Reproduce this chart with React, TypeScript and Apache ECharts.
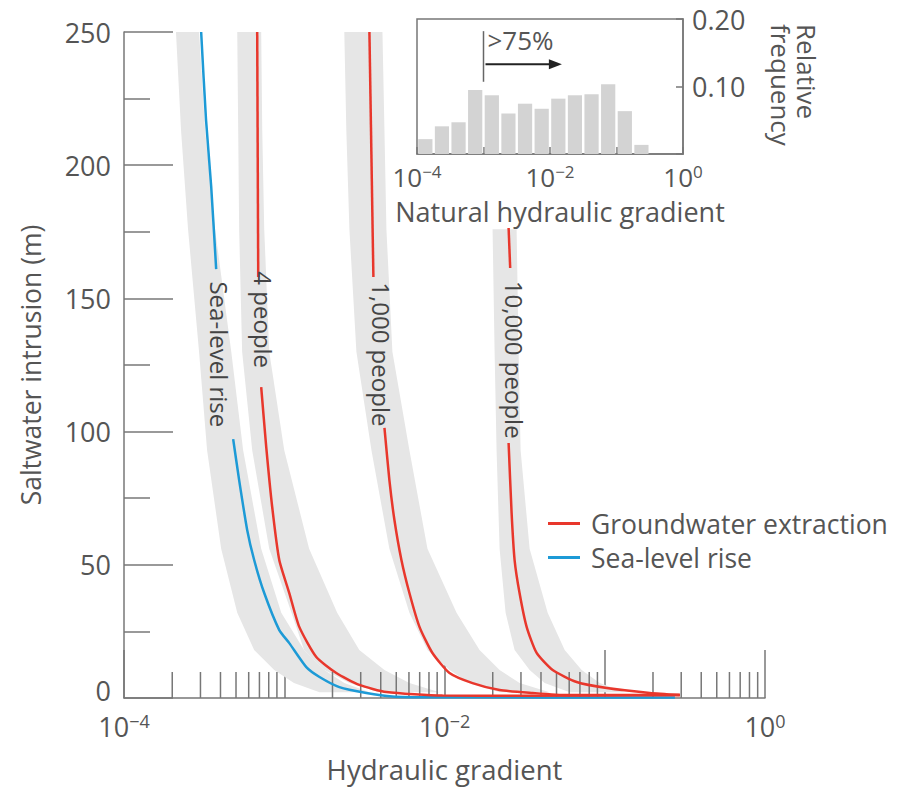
import React, { useEffect, useRef } from "react";
import * as echarts from "echarts";

// ---------- data (gradient, intrusion m) ----------
const seaUpper = [[3.03e-4, 250], [3.25e-4, 217], [3.5e-4, 192], [3.76e-4, 161]];
const seaLower = [[4.8e-4, 97.2], [5.23e-4, 81.8], [5.87e-4, 63.1], [6.49e-4, 51.8], [7.5e-4, 39.4], [9.31e-4, 25.5], [1.075e-3, 20.6], [1.373e-3, 11.6], [1.66e-3, 7.9], [2.207e-3, 4.1], [3.255e-3, 1.9], [4.73e-3, 0.6], [8.06e-3, 0.3], [0.274, 0.2]];
const p4Upper = [[6.78e-4, 250], [6.88e-4, 158]];
const p4Lower = [[7.18e-4, 116.7], [7.72e-4, 94.2], [8.41e-4, 71.7], [9.31e-4, 51.8], [1.075e-3, 39.4], [1.241e-3, 26.7], [1.585e-3, 15.4], [2.113e-3, 9.4], [2.94e-3, 4.9], [4.34e-3, 2.25], [9.72e-3, 0.9], [0.0294, 0.8], [0.294, 1.1]];
const p1000Upper = [[3.4e-3, 250], [3.6e-3, 158]];
const p1000Lower = [[4.22e-3, 101.4], [4.53e-3, 81.8], [4.87e-3, 66.8], [5.385e-3, 51.8], [6.04e-3, 39.4], [6.98e-3, 26.7], [8.41e-3, 16.9], [0.01075, 9.4], [0.01496, 5.6], [0.02207, 3.0], [0.03548, 1.9], [0.05786, 1.1], [0.294, 1.1]];
const p10000Upper = [[0.02512, 176.4], [0.0257, 161.4]];
const p10000Lower = [[0.02512, 95.7], [0.02623, 69.4], [0.02738, 51.8], [0.0294, 39.4], [0.03255, 26.7], [0.03758, 16.9], [0.04732, 10.5], [0.06683, 6.0], [0.1029, 3.75], [0.191, 1.9], [0.294, 1.1]];

// uncertainty bands: left edge (top->bottom) then right edge (bottom->top)
const bandSea = [[2.11e-4, 250], [2.27e-4, 213], [2.51e-4, 176], [2.94e-4, 130], [3.3e-4, 93], [4.04e-4, 56], [5.09e-4, 32], [6.49e-4, 18], [8.66e-4, 10.5], [1.15e-3, 5.6], [1.66e-3, 2.2],
  [3.4e-3, 2.2], [2.37e-3, 5.6], [1.78e-3, 10.5], [1.33e-3, 18], [9.58e-4, 32], [7.18e-4, 56], [5.54e-4, 93], [4.67e-4, 130], [3.7e-4, 176], [3.21e-4, 213], [2.94e-4, 250]];
const band4 = [[5.09e-4, 250], [5.16e-4, 213], [5.23e-4, 176], [5.46e-4, 130], [6.31e-4, 93], [8.06e-4, 56], [1.11e-3, 32], [1.33e-3, 18], [1.78e-3, 10.5], [2.55e-3, 5.6], [3.93e-3, 2.2],
  [9.31e-3, 2.2], [6.04e-3, 5.6], [4.22e-3, 10.5], [2.94e-3, 18], [2.14e-3, 32], [1.43e-3, 56], [1.0e-3, 93], [8.06e-4, 130], [7.5e-4, 176], [7.29e-4, 213], [7.18e-4, 250]];
const band1000 = [[2.37e-3, 250], [2.44e-3, 213], [2.55e-3, 176], [2.82e-3, 130], [3.5e-3, 93], [4.53e-3, 56], [6.04e-3, 32], [7.83e-3, 18], [0.01075, 10.5], [0.01433, 5.6], [0.02207, 2.2],
  [0.04532, 2.2], [0.02943, 5.6], [0.02207, 10.5], [0.01655, 18], [0.01189, 32], [7.83e-3, 56], [6.04e-3, 93], [4.73e-3, 130], [4.34e-3, 176], [4.22e-3, 213], [4.1e-3, 250]];
const band10000 = [[0.01995, 176], [0.02054, 130], [0.02113, 93], [0.02207, 56], [0.02406, 32], [0.02738, 18], [0.03398, 10.5], [0.04217, 5.6], [0.06043, 2.2],
  [0.1334, 2.2], [0.09306, 5.6], [0.0718, 10.5], [0.05623, 18], [0.04403, 32], [0.03398, 56], [0.02985, 93], [0.029, 130], [0.02818, 176]];

const curveLabels = [
  { name: "Sea-level rise", value: [3.92e-4, 129] },
  { name: "4 people", value: [7.4e-4, 142] },
  { name: "1,000 people", value: [4.05e-3, 129] },
  { name: "10,000 people", value: [0.0272, 127] },
];

// main axis minor ticks (mantissas per decade)
const minorMantissas = [2, 3, 4, 5, 6, 7, 8, 9];
const decades = [1e-4, 1e-3, 1e-2, 1e-1];

// inset histogram
const histEdges = [1e-4, 1.78e-4, 3.16e-4, 5.62e-4, 1e-3, 1.78e-3, 3.16e-3, 5.62e-3, 1e-2, 1.78e-2, 3.16e-2, 5.62e-2, 0.1, 0.178, 0.316];
const histFreq = [0.022, 0.041, 0.047, 0.095, 0.087, 0.06, 0.0745, 0.067, 0.082, 0.087, 0.0885, 0.1035, 0.0635, 0.0135];
const annot = { x: 1e-3, yBottom: 0.107, yTop: 0.182, arrowY: 0.133, arrowEnd: 0.0151, text: ">75%" };

const RED = "#e8372c";
const BLUE = "#1d9ad6";
const BAND = "#e6e6e6";
const TXT = "#555";
const AX = "#777";
const FONT = "Open Sans";

const powFmt = (v: number) => {
  const e = Math.round(Math.log10(v));
  if (e % 2 !== 0) return "";
  return `{b|10}{s|${e < 0 ? "\u2212" : ""}${Math.abs(e)}}`;
};
const powRich = (size: number) => ({
  b: { fontSize: size, color: TXT, fontFamily: FONT, lineHeight: size + 2 },
  s: { fontSize: Math.round(size * 0.66), color: TXT, fontFamily: FONT, verticalAlign: "top", lineHeight: Math.round(size * 0.66) },
});

function bandSeries(points: number[][], name: string) {
  return {
    type: "custom",
    name,
    xAxisIndex: 0,
    yAxisIndex: 0,
    z: 1,
    silent: true,
    data: points,
    encode: { x: 0, y: 1 },
    renderItem: (params: any, api: any) => {
      if (params.dataIndex !== 0) return null;
      const pts = points.map((p) => api.coord(p));
      return { type: "polygon", shape: { points: pts }, style: { fill: BAND } };
    },
  };
}

function lineSeries(name: string, data: number[][], color: string) {
  return {
    type: "line",
    name,
    data,
    xAxisIndex: 0,
    yAxisIndex: 0,
    showSymbol: false,
    symbol: "none",
    smooth: 0.2,
    z: 4,
    lineStyle: { color, width: 2.5 },
    itemStyle: { color },
  };
}

export default function App() {
  const ref = useRef<HTMLDivElement>(null);
  useEffect(() => {
    document.body.style.margin = "0";
    const chart = echarts.init(ref.current!, null, { renderer: "svg" });
    const minorTicks: number[][] = [];
    decades.forEach((d) => minorMantissas.forEach((m) => minorTicks.push([d * m, 0])));
    const histData = histFreq.map((f, i) => [histEdges[i], histEdges[i + 1], f]);

    const option: any = {
      animation: false,
      textStyle: { fontFamily: FONT },
      legend: {
        left: 543,
        top: 505,
        orient: "vertical",
        itemWidth: 32,
        itemHeight: 3,
        itemGap: 7,
        data: [
          { name: "Groundwater extraction", icon: "rect" },
          { name: "Sea-level rise", icon: "rect" },
        ],
        textStyle: { fontSize: 26.5, lineHeight: 24, color: TXT, fontFamily: FONT, padding: [0, 0, 0, 6] },
      },
      grid: [
        { left: 124, right: 137, top: 32, bottom: 91 },
        { left: 417, right: 219, top: 19, bottom: 635, show: true, borderColor: AX, borderWidth: 1.5, backgroundColor: "transparent" },
      ],
      xAxis: [
        {
          type: "log",
          gridIndex: 0,
          min: 1e-4,
          max: 1,
          logBase: 10,
          axisLine: { lineStyle: { color: AX, width: 1.5 } },
          axisTick: { inside: true, length: 48, lineStyle: { color: AX, width: 1.5 } },
          axisLabel: { formatter: powFmt, rich: powRich(27), margin: 14 },
          splitLine: { show: false },
          name: "Hydraulic gradient",
          nameLocation: "middle",
          nameGap: 57,
          nameTextStyle: { fontSize: 27.5, color: TXT, fontFamily: FONT },
        },
        {
          type: "log",
          gridIndex: 1,
          min: 1e-4,
          max: 1,
          logBase: 10,
          axisLine: { lineStyle: { color: AX, width: 1.5 } },
          axisTick: { inside: true, length: 7, lineStyle: { color: AX, width: 1.5 } },
          axisLabel: { formatter: powFmt, rich: powRich(26), margin: 9 },
          splitLine: { show: false },
          name: "Natural hydraulic gradient",
          nameLocation: "middle",
          nameGap: 44,
          nameTextStyle: { fontSize: 27, color: TXT, fontFamily: FONT, padding: [0, 0, 0, 20] },
        },
      ],
      yAxis: [
        {
          type: "value",
          gridIndex: 0,
          min: 0,
          max: 250,
          interval: 50,
          axisLine: { show: true, lineStyle: { color: AX, width: 1.5 } },
          axisTick: { show: true, inside: true, length: 49, lineStyle: { color: AX, width: 1.5 } },
          minorTick: { show: true, splitNumber: 2, length: 26, lineStyle: { color: AX, width: 1.5 } },
          axisLabel: { fontSize: 27, lineHeight: 22, color: TXT, fontFamily: FONT, margin: 13, formatter: (v: number) => (v === 0 ? "" : String(v)) },
          splitLine: { show: false },
          name: "Saltwater intrusion (m)",
          nameLocation: "middle",
          nameRotate: 90,
          nameGap: 80,
          nameTextStyle: { fontSize: 26.5, color: TXT, fontFamily: FONT },
        },
        {
          type: "value",
          gridIndex: 1,
          position: "right",
          min: 0,
          max: 0.2,
          interval: 0.1,
          axisLine: { show: true, lineStyle: { color: AX, width: 1.5 } },
          axisTick: { show: true, inside: true, length: 7, lineStyle: { color: AX, width: 1.5 } },
          axisLabel: { fontSize: 27, color: TXT, fontFamily: FONT, margin: 9, formatter: (v: number) => (v === 0 ? "" : v.toFixed(2)) },
          splitLine: { show: false },
        },
      ],
      graphic: [
        {
          type: "text",
          x: 820,
          y: 24,
          rotation: -Math.PI / 2,
          style: { text: "Relative\nfrequency", fontSize: 26, fill: TXT, fontFamily: FONT, align: "left", verticalAlign: "top", lineHeight: 26 },
        },
      ],
      series: [
        bandSeries(bandSea, "bandSea"),
        bandSeries(band4, "band4"),
        bandSeries(band1000, "band1000"),
        bandSeries(band10000, "band10000"),
        {
          type: "custom",
          name: "minorTicks",
          xAxisIndex: 0,
          yAxisIndex: 0,
          z: 2,
          silent: true,
          data: minorTicks,
          encode: { x: 0, y: 1 },
          renderItem: (params: any, api: any) => {
            const p = api.coord([api.value(0), 0]);
            return { type: "line", shape: { x1: p[0], y1: p[1], x2: p[0], y2: p[1] - 26 }, style: { stroke: AX, lineWidth: 1.5 } };
          },
        },
        {
          type: "custom",
          name: "zeroLabel",
          xAxisIndex: 0,
          yAxisIndex: 0,
          z: 2,
          silent: true,
          clip: false,
          data: [[1e-4, 0]],
          encode: { x: 0, y: 1 },
          renderItem: (params: any, api: any) => {
            const p = api.coord([api.value(0), api.value(1)]);
            return {
              type: "text",
              x: p[0] - 13,
              y: p[1] + 3,
              style: { text: "0", fontSize: 27, lineHeight: 22, fill: TXT, fontFamily: FONT, align: "right", verticalAlign: "bottom" },
            };
          },
        },
        lineSeries("Sea-level rise", seaUpper, BLUE),
        lineSeries("Sea-level rise", seaLower, BLUE),
        lineSeries("Groundwater extraction", p4Upper, RED),
        lineSeries("Groundwater extraction", p4Lower, RED),
        lineSeries("Groundwater extraction", p1000Upper, RED),
        lineSeries("Groundwater extraction", p1000Lower, RED),
        lineSeries("Groundwater extraction", p10000Upper, RED),
        lineSeries("Groundwater extraction", p10000Lower, RED),
        {
          type: "custom",
          name: "curveLabels",
          xAxisIndex: 0,
          yAxisIndex: 0,
          z: 5,
          silent: true,
          data: curveLabels.map((c) => c.value),
          encode: { x: 0, y: 1 },
          renderItem: (params: any, api: any) => {
            const p = api.coord([api.value(0), api.value(1)]);
            return {
              type: "text",
              x: p[0],
              y: p[1],
              rotation: -Math.PI / 2,
              style: { text: curveLabels[params.dataIndex].name, fontSize: 24, fill: "#444", fontFamily: FONT, align: "center", verticalAlign: "middle" },
            };
          },
        },
        {
          type: "custom",
          name: "histogram",
          xAxisIndex: 1,
          yAxisIndex: 1,
          silent: true,
          data: histData,
          encode: { x: [0, 1], y: 2 },
          renderItem: (params: any, api: any) => {
            const a = api.coord([api.value(0), api.value(2)]);
            const b = api.coord([api.value(1), 0]);
            return { type: "rect", shape: { x: a[0] + 1.2, y: a[1], width: b[0] - a[0] - 2.4, height: b[1] - a[1] }, style: { fill: "#d3d3d3" } };
          },
        },
        {
          type: "custom",
          name: "annotation",
          xAxisIndex: 1,
          yAxisIndex: 1,
          silent: true,
          z: 5,
          data: [[annot.x, annot.arrowY]],
          encode: { x: 0, y: 1 },
          renderItem: (params: any, api: any) => {
            const p0 = api.coord([annot.x, annot.yBottom]);
            const p1 = api.coord([annot.x, annot.yTop]);
            const a0 = api.coord([annot.x, annot.arrowY]);
            const a1 = api.coord([annot.arrowEnd, annot.arrowY]);
            return {
              type: "group",
              children: [
                { type: "line", shape: { x1: p0[0], y1: p0[1], x2: p1[0], y2: p1[1] }, style: { stroke: "#666", lineWidth: 1.5 } },
                { type: "line", shape: { x1: a0[0] + 2, y1: a0[1], x2: a1[0] - 8, y2: a1[1] }, style: { stroke: "#222", lineWidth: 1.8 } },
                { type: "polygon", shape: { points: [[a1[0], a1[1]], [a1[0] - 13, a1[1] - 5], [a1[0] - 13, a1[1] + 5]] }, style: { fill: "#222" } },
                { type: "text", x: p1[0] + 4, y: p1[1] - 4, style: { text: annot.text, fontSize: 26, fill: TXT, fontFamily: FONT, align: "left", verticalAlign: "top" } },
              ],
            };
          },
        },
      ],
    };
    chart.setOption(option);
    return () => chart.dispose();
  }, []);
  return <div ref={ref} style={{ width: 902, height: 789 }} />;
}
